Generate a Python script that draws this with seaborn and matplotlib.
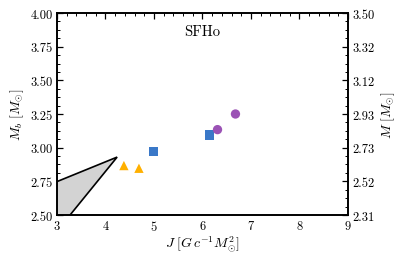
import matplotlib
matplotlib.use("Agg")
import matplotlib.pyplot as plt
import seaborn as sns
import pandas as pd
from matplotlib.ticker import MultipleLocator, FixedLocator, FixedFormatter
from matplotlib.patches import Polygon

sns.set_theme(style="white")
plt.rcParams['font.family'] = ['cmr10', 'DejaVu Serif']
plt.rcParams['mathtext.fontset'] = 'cm'
plt.rcParams['axes.formatter.use_mathtext'] = True
plt.rcParams['axes.unicode_minus'] = False
for k in ['text.color', 'axes.labelcolor', 'xtick.color', 'ytick.color', 'axes.edgecolor']:
    plt.rcParams[k] = 'black'

# data
groups = ["tri", "tri", "sq", "sq", "circ", "circ"]
J_vals = [4.38, 4.69, 4.99, 6.15, 6.31, 6.68]
Mb_vals = [2.867, 2.847, 2.97, 3.094, 3.134, 3.25]
region_J = [2.6, 3.0, 4.24, 3.27, 3.1, 2.6]
region_Mb = [2.69, 2.748, 2.93, 2.50, 2.33, 2.33]
right_ticks = [2.5, 2.75, 3.0, 3.25, 3.5, 3.75, 4.0]
right_labels = ["2.31", "2.52", "2.73", "2.93", "3.12", "3.32", "3.50"]

df = pd.DataFrame({"J": J_vals, "Mb": Mb_vals, "g": groups})

fig = plt.figure(figsize=(4.07, 2.55), dpi=100)
ax = fig.add_axes([0.140, 0.153, 0.715, 0.792])

poly = Polygon(list(zip(region_J, region_Mb)), closed=True, facecolor='#d3d3d3',
               edgecolor='black', lw=1.2, zorder=1)
ax.add_patch(poly)

palette = {"tri": "#FFB000", "sq": "#3A78C8", "circ": "#9B52B5"}
markers = {"tri": "^", "sq": "s", "circ": "o"}
sns.scatterplot(data=df, x="J", y="Mb", hue="g", style="g", palette=palette,
                markers=markers, s=45, linewidth=0, legend=False, ax=ax, zorder=3)

ax.set_xlim(3, 9)
ax.set_ylim(2.5, 4.0)
ax.xaxis.set_major_locator(MultipleLocator(1))
ax.xaxis.set_minor_locator(MultipleLocator(0.2))
ax.yaxis.set_major_locator(MultipleLocator(0.25))
ax.yaxis.set_minor_locator(MultipleLocator(0.0625))
ax.yaxis.set_major_formatter(matplotlib.ticker.FormatStrFormatter('%.2f'))
ax.tick_params(which='both', direction='in', top=True, right=False, labelsize=9, color='black')
ax.tick_params(which='major', length=4, width=0.9, pad=3)
ax.tick_params(which='minor', length=2, width=0.7)
for s in ax.spines.values():
    s.set_color('black')
    s.set_linewidth(1.2)

ax.set_xlabel(r'$J\ [G\,c^{-1}M_{\odot}^{2}]$', fontsize=10, labelpad=0)
ax.set_ylabel(r'$M_b\ [M_{\odot}]$', fontsize=10, labelpad=3)

ax2 = ax.twinx()
ax2.set_ylim(2.5, 4.0)
ax2.yaxis.set_major_locator(FixedLocator(right_ticks))
ax2.yaxis.set_major_formatter(FixedFormatter(right_labels))
ax2.yaxis.set_minor_locator(MultipleLocator(0.0625))
ax2.tick_params(which='both', direction='in', labelsize=9, color='black')
ax2.tick_params(which='major', length=4, width=0.9)
ax2.tick_params(which='minor', length=2, width=0.7)
ax2.set_ylabel(r'$M\ [M_{\odot}]$', fontsize=10, labelpad=3)
for s in ax2.spines.values():
    s.set_color('black')
    s.set_linewidth(1.2)

ax.text(0.5, 0.91, 'SFHo', transform=ax.transAxes, ha='center', va='center', fontsize=10.5)

fig.savefig('out.png', dpi=100)
